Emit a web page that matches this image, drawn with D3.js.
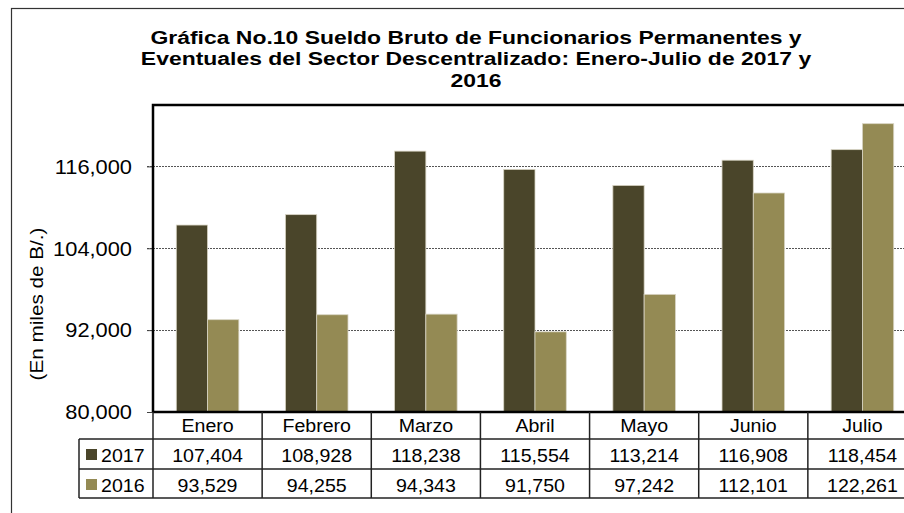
<!DOCTYPE html>
<html><head><meta charset="utf-8">
<script src="https://cdn.jsdelivr.net/npm/d3@7"></script>
<style>html,body{margin:0;padding:0;background:#fff;}svg{display:block;}</style>
</head><body>
<svg id="c" width="904" height="513"></svg>
<script>
const titleLines = ["Gráfica No.10 Sueldo Bruto de Funcionarios Permanentes y",
  "Eventuales del Sector Descentralizado: Enero-Julio de 2017 y", "2016"];
const months = ["Enero","Febrero","Marzo","Abril","Mayo","Junio","Julio"];
const seriesNames = ["2017","2016"];
const values2017 = [107404,108928,118238,115554,113214,116908,118454];
const values2016 = [93529,94255,94343,91750,97242,112101,122261];
const yTicks = [80000,92000,104000,116000];
const yLabel = "(En miles de B/.)";
const colors = ["#4A452A","#948A54"];

const svg = d3.select("#c");
const FONT = "'Liberation Sans', Arial, sans-serif";
const SX = 1.12;
const L = 153, R = 917, T = 105, B = 412;
const rowH = [412, 439, 469, 498];
const tableLeft = 79;

function txt(g, x, y, s, size, anchor, weight, sx) {
  return g.append("text").attr("transform", `translate(${x},${y}) scale(${sx || SX},1)`)
    .attr("text-anchor", anchor || "middle").attr("font-family", FONT)
    .attr("font-size", size).attr("font-weight", weight || "normal").attr("fill", "#000").text(s);
}

// outer frame
svg.append("rect").attr("x", 11.5).attr("y", 8.5).attr("width", 920).attr("height", 520)
  .attr("fill", "none").attr("stroke", "#333").attr("stroke-width", 1.2);

// title
titleLines.forEach((t, i) => txt(svg, 476, 43.5 + i * 21.5, t, 18.5, "middle", "bold", 1.24));

const y = d3.scaleLinear().domain([80000, 125000]).range([B, T]);
const x0 = d3.scaleBand().domain(months).range([L, R]).padding(0);
const x1 = d3.scaleBand().domain(seriesNames).range([0, x0.bandwidth()]).paddingInner(0).paddingOuter(0.745);

// gridlines
svg.append("g").selectAll("line").data(yTicks.slice(1)).join("line")
  .attr("x1", L - 6).attr("x2", R).attr("y1", d => Math.round(y(d)) + 0.5).attr("y2", d => Math.round(y(d)) + 0.5)
  .attr("stroke", "#555").attr("stroke-width", 1).attr("stroke-dasharray", "2,1");

// y axis
const yAxis = d3.axisLeft(y).tickValues(yTicks).tickSize(6).tickPadding(15).tickFormat(d3.format(","));
const ga = svg.append("g").attr("transform", `translate(${L},0)`).call(yAxis);
ga.select(".domain").remove();
ga.selectAll(".tick line").attr("stroke", "#444");
ga.selectAll(".tick text").attr("font-family", FONT).attr("font-size", 19.5).attr("fill", "#000")
  .attr("transform", `scale(${SX},1)`).attr("x", -21 / SX).attr("dy", "0.35em");

// y label
svg.append("text").attr("transform", `translate(43,304) rotate(-90) scale(${SX},1)`)
  .attr("text-anchor", "middle").attr("font-family", FONT).attr("font-size", 18.5).text(yLabel);

// bars
const data = [values2017, values2016];
const gb = svg.append("g");
seriesNames.forEach((s, si) => {
  gb.append("g").selectAll("rect").data(months).join("rect")
    .attr("x", m => x0(m) + x1(s)).attr("width", x1.bandwidth())
    .attr("y", (m, i) => y(data[si][i])).attr("height", (m, i) => B - y(data[si][i]))
    .attr("fill", colors[si]).attr("stroke", "#d8d4c4").attr("stroke-width", 0.8);
});

// plot border (top, left, bottom)
svg.append("path").attr("d", `M${L},${B}V${T}H${R + 5}`).attr("fill", "none").attr("stroke", "#000").attr("stroke-width", 2.5);
svg.append("line").attr("x1", L).attr("x2", R + 5).attr("y1", B).attr("y2", B).attr("stroke", "#000").attr("stroke-width", 2.5);

// data table
const gt = svg.append("g");
[rowH[1], rowH[2], rowH[3]].forEach(yy => gt.append("line").attr("x1", tableLeft).attr("x2", R + 5)
  .attr("y1", yy).attr("y2", yy).attr("stroke", "#222").attr("stroke-width", 1.5));
const vx = months.map(m => x0(m)).concat([R]);
gt.selectAll("line.v").data(vx).join("line").attr("class", "v")
  .attr("x1", d => d).attr("x2", d => d).attr("y1", B).attr("y2", rowH[3]).attr("stroke", "#222").attr("stroke-width", 1.5);
gt.append("line").attr("x1", tableLeft).attr("x2", tableLeft).attr("y1", rowH[1]).attr("y2", rowH[3]).attr("stroke", "#222").attr("stroke-width", 1.5);

months.forEach((m, i) => {
  const cx = x0(m) + x0.bandwidth() / 2;
  txt(gt, cx, 432, m, 17.5);
  txt(gt, cx, 462, d3.format(",")(values2017[i]), 17.5);
  txt(gt, cx, 492, d3.format(",")(values2016[i]), 17.5);
});
seriesNames.forEach((s, si) => {
  const yy = rowH[1 + si];
  gt.append("rect").attr("x", 86).attr("y", yy + 10).attr("width", 11).attr("height", 11).attr("fill", colors[si]);
  txt(gt, 101, yy + 23, s, 17.5, "start");
});
</script>
</body></html>
